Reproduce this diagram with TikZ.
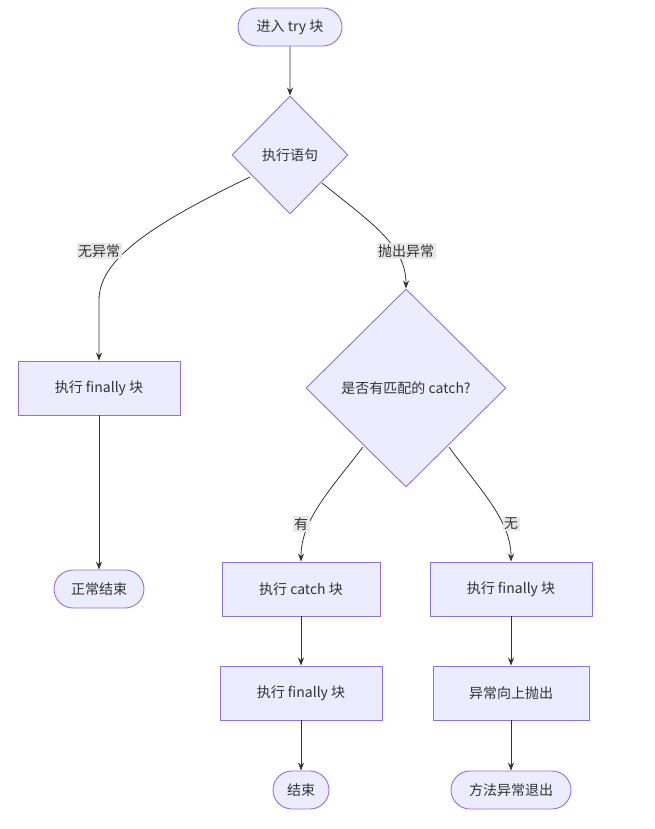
\documentclass[tikz,border=0pt]{standalone}
\usepackage{fontspec}
\setmainfont{Noto Sans CJK SC}
\usetikzlibrary{shapes.geometric,arrows.meta}
\definecolor{nodefill}{HTML}{ECECFF}
\definecolor{nodeline}{HTML}{9370DB}
\definecolor{ink}{HTML}{333333}
\definecolor{labelbg}{HTML}{E8E8E8}
\tikzset{box/.style = {draw=nodeline, fill=nodefill, line width=0.9pt, text=ink, inner sep=0pt},
         proc/.style = {box, rectangle, minimum height=54pt},
         term/.style = {box, rounded rectangle, minimum height=38pt},
         choice/.style = {box, diamond},
         edgelab/.style = {fill=labelbg, text=ink, inner sep=1.5pt},
         link/.style = {draw=ink, line width=0.8pt, -{Stealth[length=8pt,width=6pt]}}
        }
\usetikzlibrary{shapes.misc}
\begin{document}
\begin{tikzpicture}[x=1pt, y=-1pt, font=\fontsize{14}{16}\selectfont]
  \useasboundingbox (0,0) rectangle (654,829);
  \node[term, minimum width=104pt] (start) at (290,27) {进入 try 块};
  \node[choice, minimum width=116pt, minimum height=118pt] (exec) at (290,155) {执行语句};
  \node[proc, minimum width=162pt] (fin1) at (99,388) {执行 finally 块};
  \node[choice, minimum width=200pt, minimum height=198pt] (match) at (406,388) {是否有匹配的 catch?};
  \node[term, minimum width=90pt] (okend) at (99,589) {正常结束};
  \node[proc, minimum width=158pt] (catch) at (301,589) {执行 catch 块};
  \node[proc, minimum width=162pt] (fin3) at (511,589) {执行 finally 块};
  \node[proc, minimum width=162pt] (fin2) at (301,693) {执行 finally 块};
  \node[proc, minimum width=156pt] (rethrow) at (511,693) {异常向上抛出};
  \node[term, minimum width=56pt] (done) at (301,790) {结束};
  \node[term, minimum width=120pt] (fail) at (511,790) {方法异常退出};

  \draw[link] (start) -- (exec);
  \draw[link] (250,177) .. controls (150,225) and (99,260) .. (99,300) -- (fin1);
  \draw[link] (322,183) .. controls (370,222) and (406,245) .. (match.north);
  \draw[link] (363,447) .. controls (330,490) and (301,520) .. (catch.north);
  \draw[link] (449,447) .. controls (480,490) and (511,520) .. (fin3.north);
  \draw[link] (fin1) -- (okend);
  \draw[link] (catch) -- (fin2);
  \draw[link] (fin2) -- (done);
  \draw[link] (fin3) -- (rethrow);
  \draw[link] (rethrow) -- (fail);

  \node[edgelab] (lab1) at (99,251) {无异常};
  \node[edgelab] (lab2) at (406,251) {抛出异常};
  \node[edgelab] (lab3) at (301,524) {有};
  \node[edgelab] (lab4) at (511,524) {无};
\end{tikzpicture}
\end{document}
